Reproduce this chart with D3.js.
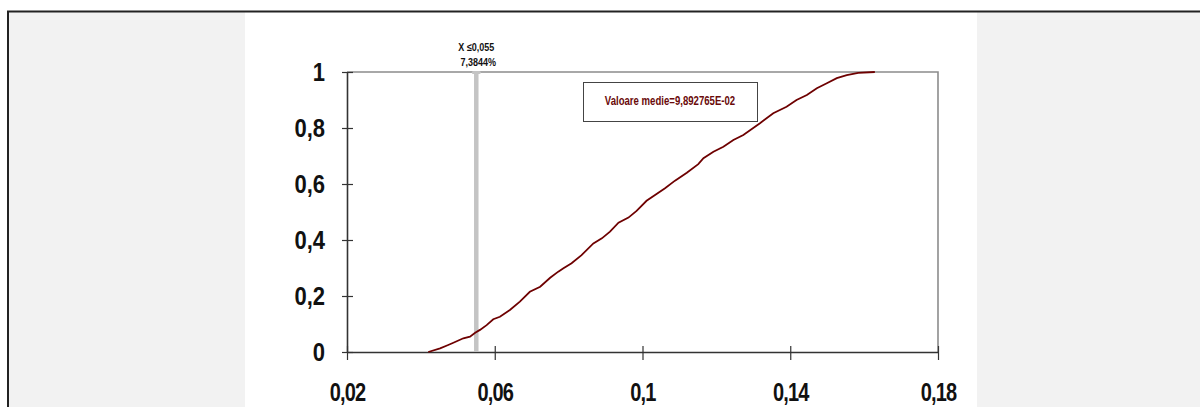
<!DOCTYPE html>
<html>
<head>
<meta charset="utf-8">
<script src="https://cdn.jsdelivr.net/npm/d3@7"></script>
<style>
  body { margin: 0; background: #ffffff; }
  text { font-family: "Liberation Sans", Arial, sans-serif; font-weight: bold; }
</style>
</head>
<body>
<div class="chart"></div>
<script>
// canvas
var svgWidth = 1200;
var svgHeight = 407;

// cumulative curve (x value, cumulative probability)
var curveX = [0.0420, 0.0452, 0.0474, 0.0488, 0.0515, 0.0533, 0.0547, 0.0560, 0.0578, 0.0596,
  0.0614, 0.0641, 0.0668, 0.0695, 0.0723, 0.0750, 0.0772, 0.0786, 0.0808, 0.0835,
  0.0867, 0.0890, 0.0912, 0.0935, 0.0962, 0.0984, 0.1011, 0.1034, 0.1061, 0.1088,
  0.1120, 0.1151, 0.1165, 0.1192, 0.1219, 0.1246, 0.1273, 0.1318, 0.1354, 0.1390,
  0.1417, 0.1445, 0.1472, 0.1499, 0.1526, 0.1553, 0.1584, 0.1629];
var curveY = [0.000, 0.013, 0.025, 0.033, 0.049, 0.055, 0.069, 0.079, 0.096, 0.117,
  0.126, 0.150, 0.180, 0.215, 0.233, 0.265, 0.287, 0.299, 0.317, 0.346,
  0.388, 0.406, 0.430, 0.462, 0.480, 0.504, 0.540, 0.561, 0.585, 0.612,
  0.640, 0.671, 0.692, 0.715, 0.733, 0.757, 0.775, 0.817, 0.853, 0.876,
  0.900, 0.918, 0.942, 0.960, 0.978, 0.989, 0.997, 1.000];

// tick values
var xTicks = [0.02, 0.06, 0.1, 0.14, 0.18];
var yTicks = [0, 0.2, 0.4, 0.6, 0.8, 1];

// marker line and its labels
var markerX = 0.055;
var markerLabels = ["X \u22640,055", "7,3844%"];
var meanLabel = "Valoare medie=9,892765E-02";

var fmt = function (d) { return String(d).replace(".", ","); };

// no narrow font installed, so squeeze text horizontally
function narrow(sel, k) {
  sel.each(function () {
    var t = d3.select(this);
    var x = +t.attr("x") || 0;
    t.attr("x", x / k).attr("transform", `scale(${k},1)`);
  });
}

var svg = d3
  .select(".chart")
  .append("svg")
  .attr("width", svgWidth)
  .attr("height", svgHeight);

// outer frame: gray side panels, white middle
svg.append("rect").attr("x", 9).attr("y", 12).attr("width", 1191).attr("height", 395).attr("fill", "#f2f2f2");
svg.append("rect").attr("x", 245).attr("y", 12).attr("width", 732).attr("height", 395).attr("fill", "#ffffff");
svg.append("path").attr("d", "M8,407V11.5H1200").attr("fill", "none").attr("stroke", "#222").attr("stroke-width", 2);

// plot area
var plot = { left: 347, right: 938, top: 72, bottom: 352 };

var xScale = d3.scaleLinear().domain([0.02, 0.18]).range([plot.left, plot.right]);
var yScale = d3.scaleLinear().domain([0, 1]).range([plot.bottom, plot.top]);

// top and right borders of the plot
svg.append("path")
  .attr("d", `M${plot.left},${yScale(1)}H${xScale(0.18)}V${yScale(0)}`)
  .attr("fill", "none")
  .attr("stroke", "#8c8c8c")
  .attr("stroke-width", 1.6);

// x axis
var bottomAxis = d3.axisBottom(xScale).tickValues(xTicks).tickFormat(fmt).tickSize(8).tickSizeOuter(0).tickPadding(23);
var xAxis = svg.append("g").attr("transform", `translate(0, ${plot.bottom})`).call(bottomAxis);
xAxis.select(".domain").attr("stroke", "#333").attr("stroke-width", 1.6);
xAxis.selectAll(".tick line").attr("y1", -6).attr("stroke", "#333").attr("stroke-width", 1.2);
xAxis.selectAll(".tick text").attr("font-size", 25).attr("fill", "#111").attr("letter-spacing", -1).call(narrow, 0.8);

// y axis
var leftAxis = d3.axisLeft(yScale).tickValues(yTicks).tickFormat(fmt).tickSize(5).tickSizeOuter(0).tickPadding(17);
var yAxis = svg.append("g").attr("transform", `translate(${plot.left}, 0)`).call(leftAxis);
yAxis.select(".domain").attr("stroke", "#333").attr("stroke-width", 1.6);
yAxis.selectAll(".tick line").attr("x2", 6).attr("x1", -5).attr("stroke", "#333").attr("stroke-width", 1.2);
yAxis.selectAll(".tick text").attr("font-size", 25).attr("fill", "#111").call(narrow, 0.88);

// gray marker line at x = 0.055
svg.append("line")
  .attr("x1", xScale(markerX)).attr("x2", xScale(markerX))
  .attr("y1", yScale(1)).attr("y2", yScale(0))
  .attr("stroke", "#c4c4c4")
  .attr("stroke-width", 4.5);
svg.append("rect")
  .attr("x", xScale(markerX) - 4.5).attr("y", yScale(1) - 1)
  .attr("width", 9).attr("height", 3).attr("rx", 1.5)
  .attr("fill", "#c4c4c4");

svg.selectAll(".marker-label")
  .data(markerLabels)
  .enter()
  .append("text")
  .attr("class", "marker-label")
  .attr("x", (d, i) => xScale(markerX) + i * 2)
  .attr("y", (d, i) => 51.5 + i * 15)
  .attr("text-anchor", "middle")
  .attr("font-size", 11)
  .attr("fill", "#111")
  .text((d) => d)
  .call(narrow, 0.82);

// cumulative curve
var pts = curveX.map((x, i) => [x, curveY[i]]);
svg.append("path")
  .datum(pts)
  .attr("d", d3.line().x((d) => xScale(d[0])).y((d) => yScale(d[1])))
  .attr("fill", "none")
  .attr("stroke", "#6e0000")
  .attr("stroke-width", 1.8);

// mean value box
svg.append("rect")
  .attr("x", 583.5).attr("y", 82.5).attr("width", 174).attr("height", 39)
  .attr("fill", "#fff")
  .attr("stroke", "#444")
  .attr("stroke-width", 1);
svg.append("text")
  .attr("x", 670).attr("y", 105.5)
  .attr("text-anchor", "middle")
  .attr("font-size", 12)
  .attr("fill", "#6a0a0a")
  .text(meanLabel)
  .call(narrow, 0.8);
</script>
</body>
</html>
